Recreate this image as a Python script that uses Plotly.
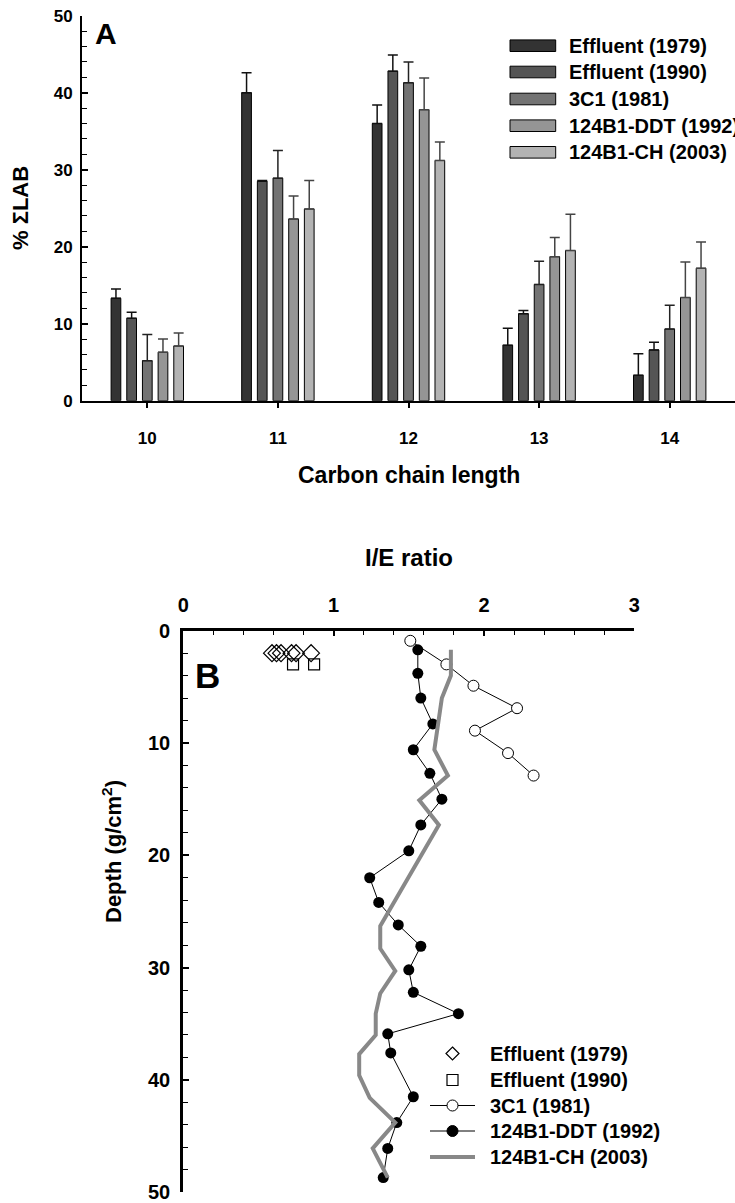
import plotly.graph_objects as go

W, H = 735, 1203
FONT = "Liberation Sans, Arial, sans-serif"

# ---- Panel A: % of total LAB by carbon chain length ----
chain_lengths = [10, 11, 12, 13, 14]
series_names = ["Effluent (1979)", "Effluent (1990)", "3C1 (1981)",
                "124B1-DDT (1992)", "124B1-CH (2003)"]
eff1979 = [13.3, 40.0, 36.0, 7.2, 3.3]
eff1979_err = [1.2, 2.6, 2.4, 2.2, 2.8]
eff1990 = [10.7, 28.5, 42.8, 11.3, 6.6]
eff1990_err = [0.8, 0.1, 2.1, 0.4, 1.0]
c3c1 = [5.2, 28.9, 41.3, 15.1, 9.3]
c3c1_err = [3.4, 3.6, 2.7, 3.0, 3.1]
ddt = [6.3, 23.6, 37.8, 18.7, 13.4]
ddt_err = [1.7, 3.0, 4.1, 2.5, 4.6]
ch = [7.1, 24.9, 31.2, 19.5, 17.2]
ch_err = [1.7, 3.7, 2.4, 4.7, 3.4]

bar_colors = ["#333333", "#555555", "#737373", "#959595", "#b3b3b3"]
err_colors = ["#111111", "#111111", "#222222", "#444444", "#444444"]

# ---- Panel B: I/E ratio with depth ----
eff79_ie = [0.59, 0.62, 0.65, 0.72, 0.75, 0.85]
eff79_depth = [2.0, 2.0, 2.0, 2.0, 2.0, 2.0]
eff90_ie = [0.73, 0.87]
eff90_depth = [3.0, 3.0]
c1_ie = [1.51, 1.75, 1.93, 2.22, 1.94, 2.16, 2.33]
c1_depth = [0.9, 3.0, 4.9, 6.9, 8.9, 10.9, 12.9]
ddt_ie = [1.56, 1.56, 1.58, 1.66, 1.53, 1.64, 1.72, 1.58, 1.50, 1.24,
          1.30, 1.43, 1.58, 1.50, 1.53, 1.83, 1.36, 1.38, 1.53, 1.42,
          1.36, 1.33]
ddt_depth = [1.7, 3.8, 6.0, 8.3, 10.6, 12.7, 15.0, 17.3, 19.6, 22.0,
             24.2, 26.2, 28.1, 30.2, 32.2, 34.1, 35.9, 37.6, 41.5, 43.8,
             46.1, 48.7]
ch_ie = [1.78, 1.78, 1.72, 1.67, 1.76, 1.57, 1.70, 1.31, 1.31, 1.41,
         1.31, 1.28, 1.28, 1.17, 1.17, 1.24, 1.41, 1.26, 1.36]
ch_depth = [1.7, 4.0, 6.0, 10.6, 12.9, 15.1, 17.3, 26.3, 28.3, 30.3,
            32.3, 34.1, 36.0, 37.7, 39.6, 41.6, 43.8, 46.1, 48.7]
depth_ticks = [0, 10, 20, 30, 40, 50]
ratio_ticks = [0, 1, 2, 3]


def px(x):
    return x / W


def py(y):
    return 1 - y / H


fig = go.Figure()

bar_sets = [(eff1979, eff1979_err), (eff1990, eff1990_err), (c3c1, c3c1_err),
            (ddt, ddt_err), (ch, ch_err)]
for i, (vals, errs) in enumerate(bar_sets):
    fig.add_trace(go.Bar(
        x=chain_lengths, y=vals, name=series_names[i],
        marker=dict(color=bar_colors[i], line=dict(color="#000000", width=1)),
        error_y=dict(type="data", array=errs, arrayminus=[0] * len(errs),
                     symmetric=False, color=err_colors[i], thickness=1.5, width=5),
        xaxis="x", yaxis="y", showlegend=False,
    ))

# Panel B traces
fig.add_trace(go.Scatter(
    x=eff79_ie, y=eff79_depth, mode="markers", xaxis="x2", yaxis="y2",
    marker=dict(symbol="diamond-open", size=13, color="#000000", line=dict(width=1.2)),
    showlegend=False, cliponaxis=False))
fig.add_trace(go.Scatter(
    x=eff90_ie, y=eff90_depth, mode="markers", xaxis="x2", yaxis="y2",
    marker=dict(symbol="square-open", size=11, color="#000000", line=dict(width=1.2)),
    showlegend=False, cliponaxis=False))
fig.add_trace(go.Scatter(
    x=ddt_ie, y=ddt_depth, mode="lines+markers", xaxis="x2", yaxis="y2",
    line=dict(color="#000000", width=1),
    marker=dict(symbol="circle", size=11, color="#000000"),
    showlegend=False, cliponaxis=False))
fig.add_trace(go.Scatter(
    x=c1_ie, y=c1_depth, mode="lines+markers", xaxis="x2", yaxis="y2",
    line=dict(color="#000000", width=1),
    marker=dict(symbol="circle", size=11, color="#ffffff",
                line=dict(color="#000000", width=1)),
    showlegend=False, cliponaxis=False))
fig.add_trace(go.Scatter(
    x=ch_ie, y=ch_depth, mode="lines", xaxis="x2", yaxis="y2",
    line=dict(color="#888888", width=4),
    showlegend=False, cliponaxis=False))

tick_a = dict(family=FONT, size=17, color="#000000", weight="bold")
tick_b = dict(family=FONT, size=20, color="#000000", weight="bold")

fig.update_layout(
    width=W, height=H, template="none",
    margin=dict(l=0, r=0, t=0, b=0),
    paper_bgcolor="#ffffff", plot_bgcolor="rgba(0,0,0,0)",
    barmode="group", bargap=0.4, bargroupgap=0.38,
    xaxis=dict(domain=[px(82), 1.0], anchor="y", range=[9.5, 14.5],
               tickvals=chain_lengths, ticks="outside", ticklen=5, tickwidth=1.5,
               tickcolor="#000000", showline=True, linewidth=2, linecolor="#000000",
               showgrid=False, zeroline=False, tickfont=tick_a,
               ticklabelstandoff=16),
    yaxis=dict(domain=[py(400.7), py(15.7)], anchor="x", range=[0, 50],
               dtick=10, ticks="inside", ticklen=6, tickwidth=1.5,
               tickcolor="#000000", showline=True, linewidth=2, linecolor="#000000",
               showgrid=False, zeroline=False, tickfont=tick_a,
               ticklabelstandoff=4,
               minor=dict(dtick=2, ticks="inside", ticklen=5, tickwidth=1,
                          tickcolor="#000000", showgrid=False)),
    xaxis2=dict(domain=[px(183.3), px(634.3)], anchor="y2", side="top",
                range=[0, 3], tickvals=ratio_ticks, ticks="inside", ticklen=6,
                tickwidth=1.5, tickcolor="#000000", showline=True, linewidth=2.5,
                linecolor="#000000", showgrid=False, zeroline=False,
                tickfont=tick_b, ticklabelstandoff=8,
                minor=dict(dtick=0.2, ticks="inside", ticklen=5, tickwidth=1,
                           tickcolor="#000000", showgrid=False)),
    yaxis2=dict(domain=[py(1192.2), py(630.7)], anchor="x2",
                range=[50, 0], tickvals=depth_ticks, ticks="inside", ticklen=6,
                tickwidth=1.5, tickcolor="#000000", showline=True, linewidth=2.5,
                linecolor="#000000", showgrid=False, zeroline=False,
                showticklabels=False,
                minor=dict(dtick=2, ticks="inside", ticklen=5, tickwidth=1,
                           tickcolor="#000000", showgrid=False)),
)

annotations = []
shapes = []


def text(x, y, s, size, anchor="center", angle=0):
    annotations.append(dict(
        x=px(x), y=py(y), xref="paper", yref="paper", text=s, showarrow=False,
        xanchor=anchor, yanchor="middle", textangle=angle,
        font=dict(family=FONT, size=size, color="#000000", weight="bold")))


# Depth tick labels placed on the y2 scale
for t in depth_ticks:
    annotations.append(dict(
        x=px(172), y=t, xref="paper", yref="y2", text=str(t), showarrow=False,
        xanchor="right", yanchor="middle", font=tick_b))

# Titles and panel letters
text(106.5, 34, "A", 30)
text(207, 675, "B", 35)
text(21, 208, "% \u03a3LAB", 22, angle=-90)
text(409, 475, "Carbon chain length", 23)
text(409, 557, "I/E ratio", 24)
text(112, 852, "Depth (g/cm<sup>2</sup>)", 22, angle=-90)

# Legend for panel A
rows_a = [45.7, 72, 99, 125.7, 152.3]
for i, yc in enumerate(rows_a):
    shapes.append(dict(type="rect", xref="paper", yref="paper",
                       x0=px(510), x1=px(555.7), y0=py(yc + 5.8), y1=py(yc - 5.8),
                       fillcolor=bar_colors[i], line=dict(color="#000000", width=1)))
    text(567, yc, series_names[i], 20, anchor="left")

# Legend for panel B
rows_b = [1053.5, 1080, 1105.5, 1131, 1157]
lx0, lx1, mx = 430, 475, 452.5
# diamond
d = 6.5
shapes.append(dict(type="path", xref="paper", yref="paper",
                   path=f"M {px(mx)} {py(rows_b[0]-d)} L {px(mx+d)} {py(rows_b[0])} "
                        f"L {px(mx)} {py(rows_b[0]+d)} L {px(mx-d)} {py(rows_b[0])} Z",
                   line=dict(color="#000000", width=1.2), fillcolor="rgba(0,0,0,0)"))
# square
s = 5.5
shapes.append(dict(type="rect", xref="paper", yref="paper",
                   x0=px(mx - s), x1=px(mx + s), y0=py(rows_b[1] + s), y1=py(rows_b[1] - s),
                   line=dict(color="#000000", width=1.2), fillcolor="rgba(0,0,0,0)"))
# open circle with line
shapes.append(dict(type="line", xref="paper", yref="paper",
                   x0=px(lx0), x1=px(lx1), y0=py(rows_b[2]), y1=py(rows_b[2]),
                   line=dict(color="#000000", width=1)))
r = 5.5
shapes.append(dict(type="circle", xref="paper", yref="paper",
                   x0=px(mx - r), x1=px(mx + r), y0=py(rows_b[2] + r), y1=py(rows_b[2] - r),
                   line=dict(color="#000000", width=1), fillcolor="#ffffff"))
# filled circle with line
shapes.append(dict(type="line", xref="paper", yref="paper",
                   x0=px(lx0), x1=px(lx1), y0=py(rows_b[3]), y1=py(rows_b[3]),
                   line=dict(color="#000000", width=1)))
shapes.append(dict(type="circle", xref="paper", yref="paper",
                   x0=px(mx - r), x1=px(mx + r), y0=py(rows_b[3] + r), y1=py(rows_b[3] - r),
                   line=dict(color="#000000", width=1), fillcolor="#000000"))
# grey line
shapes.append(dict(type="line", xref="paper", yref="paper",
                   x0=px(lx0), x1=px(lx1), y0=py(rows_b[4]), y1=py(rows_b[4]),
                   line=dict(color="#888888", width=4)))
for i, yc in enumerate(rows_b):
    text(488, yc, series_names[i], 20, anchor="left")

fig.update_layout(annotations=annotations, shapes=shapes)

fig.write_html("out.html")
